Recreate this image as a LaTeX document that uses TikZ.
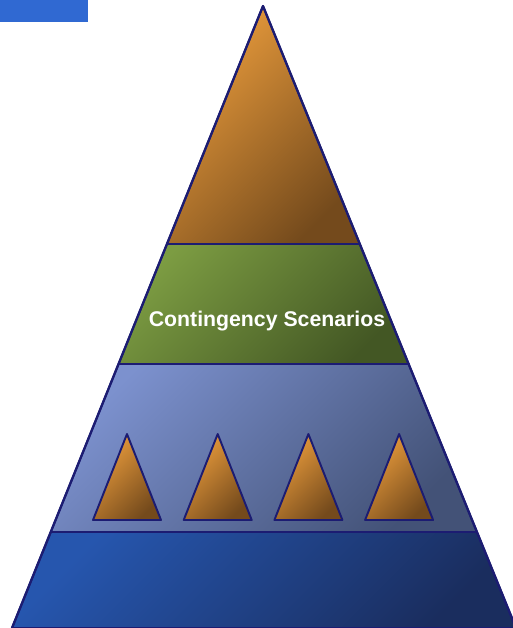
\documentclass[tikz,border=0pt]{standalone}
\usepackage{fontspec}
\setmainfont{Liberation Sans}
\usetikzlibrary{positioning,calc}

\definecolor{edgeblue}{HTML}{1C1C72}
\definecolor{tagblue}{HTML}{3069D2}
\definecolor{orangelight}{HTML}{EA9C3C}
\definecolor{orangedark}{HTML}{744A1C}
\definecolor{greenlight}{HTML}{7C9C42}
\definecolor{greendark}{HTML}{435724}
\definecolor{paleblue}{HTML}{7C91CE}
\definecolor{paledark}{HTML}{435277}
\definecolor{deeplight}{HTML}{2656AE}
\definecolor{deepdark}{HTML}{1A2D5E}

\tikzset{
    layer/.style={draw=edgeblue, line width=1.1pt, line join=round},
    shade2/.style 2 args={top color=#1, bottom color=#2, shading angle=45},
}

\begin{document}
\begin{tikzpicture}[x=0.02cm, y=-0.02cm]
    \useasboundingbox (0, 0) rectangle (512, 628);

    % tag in the corner
    \fill[tagblue] (0, 0) rectangle (88, 22);

    % the pyramid, top to bottom
    \coordinate (apex) at (263, 6);
    \coordinate (l4) at (12, 628);
    \coordinate (r4) at (516, 628);
    \foreach \i/\y in {1/244, 2/364, 3/532} {
        \coordinate (l\i) at ($(apex)!{(\y-6)/622}!(l4)$);
        \coordinate (r\i) at ($(apex)!{(\y-6)/622}!(r4)$);
    };

    \path[layer, shade2={deeplight}{deepdark}] (l3) -- (r3) -- (r4) -- (l4) -- cycle;
    \path[layer, shade2={paleblue}{paledark}] (l2) -- (r2) -- (r3) -- (l3) -- cycle;
    \path[layer, shade2={greenlight}{greendark}] (l1) -- (r1) -- (r2) -- (l2) -- cycle;
    \path[layer, shade2={orangelight}{orangedark}] (apex) -- (r1) -- (l1) -- cycle;
    \draw[edgeblue, line width=1.3pt, line join=round] (l4) -- (apex) -- (r4);

    \node[text=white, font=\bfseries\fontsize{12.1}{14}\selectfont] (scen) at (267, 321) {Contingency Scenarios};

    % small pyramids on the third shelf
    \foreach \x in {0,...,3} {
        \coordinate (t\x) at (127 + 90.7 * \x, 434);
        \path[layer, shade2={orangelight}{orangedark}]
            (t\x) -- ++(34, 86) -- ++(-68, 0) -- cycle;
    };
\end{tikzpicture}
\end{document}
